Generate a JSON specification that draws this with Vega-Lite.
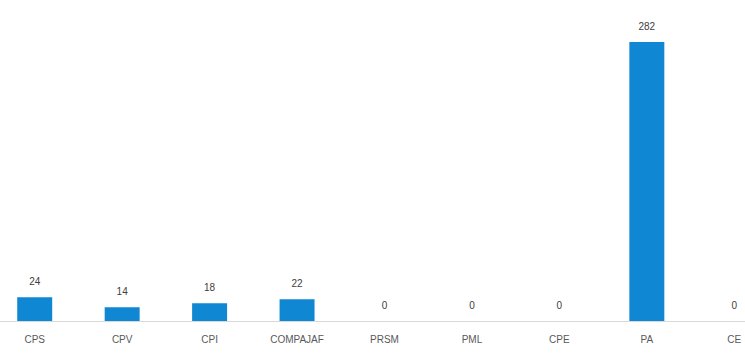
{
  "$schema": "https://vega.github.io/schema/vega-lite/v6.json",
  "autosize": {"type": "none"},
  "width": 787,
  "height": 279,
  "padding": {"left": -9, "top": 42, "right": 0, "bottom": 37},
  "background": "white",
  "data": {"values": [
    {"cat": "CPS", "value": 24},
    {"cat": "CPV", "value": 14},
    {"cat": "CPI", "value": 18},
    {"cat": "COMPAJAF", "value": 22},
    {"cat": "PRSM", "value": 0},
    {"cat": "PML", "value": 0},
    {"cat": "CPE", "value": 0},
    {"cat": "PA", "value": 282},
    {"cat": "CE", "value": 0}
  ]},
  "encoding": {
    "x": {"field": "cat", "type": "nominal", "sort": null,
      "scale": {"paddingInner": 0.6, "paddingOuter": 0.3},
      "axis": {"title": null, "labelAngle": 0, "ticks": false, "domainColor": "#d9d9d9", "domainWidth": 1,
        "labelColor": "#595959", "labelFont": "Liberation Sans", "labelFontSize": 10, "labelPadding": 13}},
    "y": {"field": "value", "type": "quantitative", "scale": {"domain": [0, 282], "nice": false}, "axis": null}
  },
  "layer": [
    {"mark": {"type": "bar", "color": "#0f87d2"}},
    {"mark": {"type": "text", "baseline": "bottom", "dy": -10, "font": "Liberation Sans", "fontSize": 10, "color": "#404040"},
     "encoding": {"text": {"field": "value", "type": "quantitative"}}}
  ],
  "config": {"view": {"stroke": null}}
}
